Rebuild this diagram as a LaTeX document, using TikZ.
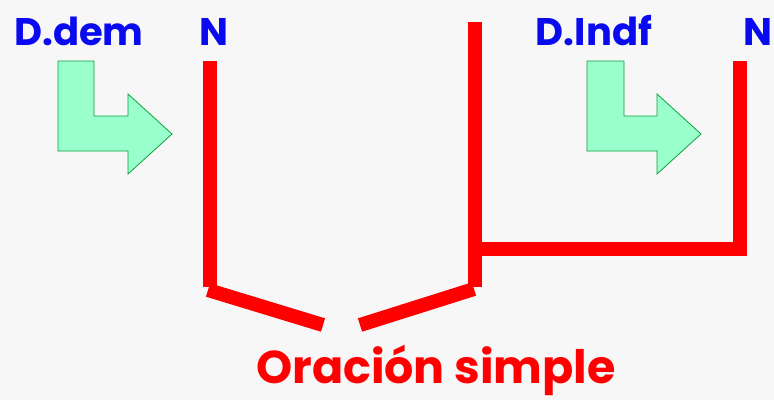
\documentclass[tikz,border=0pt]{standalone}
\usepackage{fontspec}
\setmainfont{Poppins}
\definecolor{bg}{HTML}{F7F7F7}
\definecolor{lblue}{HTML}{0A0AF0}
\definecolor{lred}{HTML}{FF0000}
\definecolor{agreen}{HTML}{99FFCC}
\definecolor{agreenline}{HTML}{10A040}
\begin{document}
\begin{tikzpicture}[x=1pt,y=-1pt,
  bar/.style={draw=lred,line width=14pt,line cap=butt},
  toplabel/.style={text=lblue,font=\fontsize{38.5}{44}\selectfont\bfseries,anchor=base,inner sep=0pt},
  bottomlabel/.style={text=lred,font=\fontsize{46}{52}\selectfont\bfseries,anchor=base,inner sep=0pt},
  bentarrow/.style={fill=agreen,draw=agreenline,line width=0.8pt,line join=miter}]
\useasboundingbox[fill=bg] (0,0) rectangle (774,400);
% labels
\node[toplabel] (ddem) at (79,45) {D.dem};
\node[toplabel] (n1) at (214,45) {N};
\node[toplabel] (dindf) at (594,45) {D.Indf};
\node[toplabel] (n2) at (758,45) {N};
\node[bottomlabel] (or) at (436,383) {Oración simple};
% coordinates of the tree
\coordinate (a1) at (210,61);
\coordinate (a2) at (210,287);
\coordinate (d1) at (208,290);
\coordinate (d2) at (323,325);
\coordinate (e1) at (360,325);
\coordinate (e2) at (474,289);
\coordinate (b1) at (475,22);
\coordinate (b2) at (475,287);
\coordinate (h1) at (475,249);
\coordinate (h2) at (747,249);
\coordinate (c1) at (740,61);
\coordinate (c2) at (740,249);
% tree bars
\draw[bar] (a1) -- (a2);
\draw[bar] (d1) -- (d2);
\draw[bar] (e1) -- (e2);
\draw[bar] (b1) -- (b2);
\draw[bar] (h1) -- (h2);
\draw[bar] (c1) -- (c2);
% bent arrows
\draw[bentarrow] (58,61) -- (94,61) -- (94,116) -- (128,116) -- (128,94) -- (172,134) -- (128,174) -- (128,151) -- (58,151) -- cycle;
\draw[bentarrow] (587,61) -- (624,61) -- (624,116) -- (657,116) -- (657,94) -- (701,134) -- (657,174) -- (657,151) -- (587,151) -- cycle;
\end{tikzpicture}
\end{document}
